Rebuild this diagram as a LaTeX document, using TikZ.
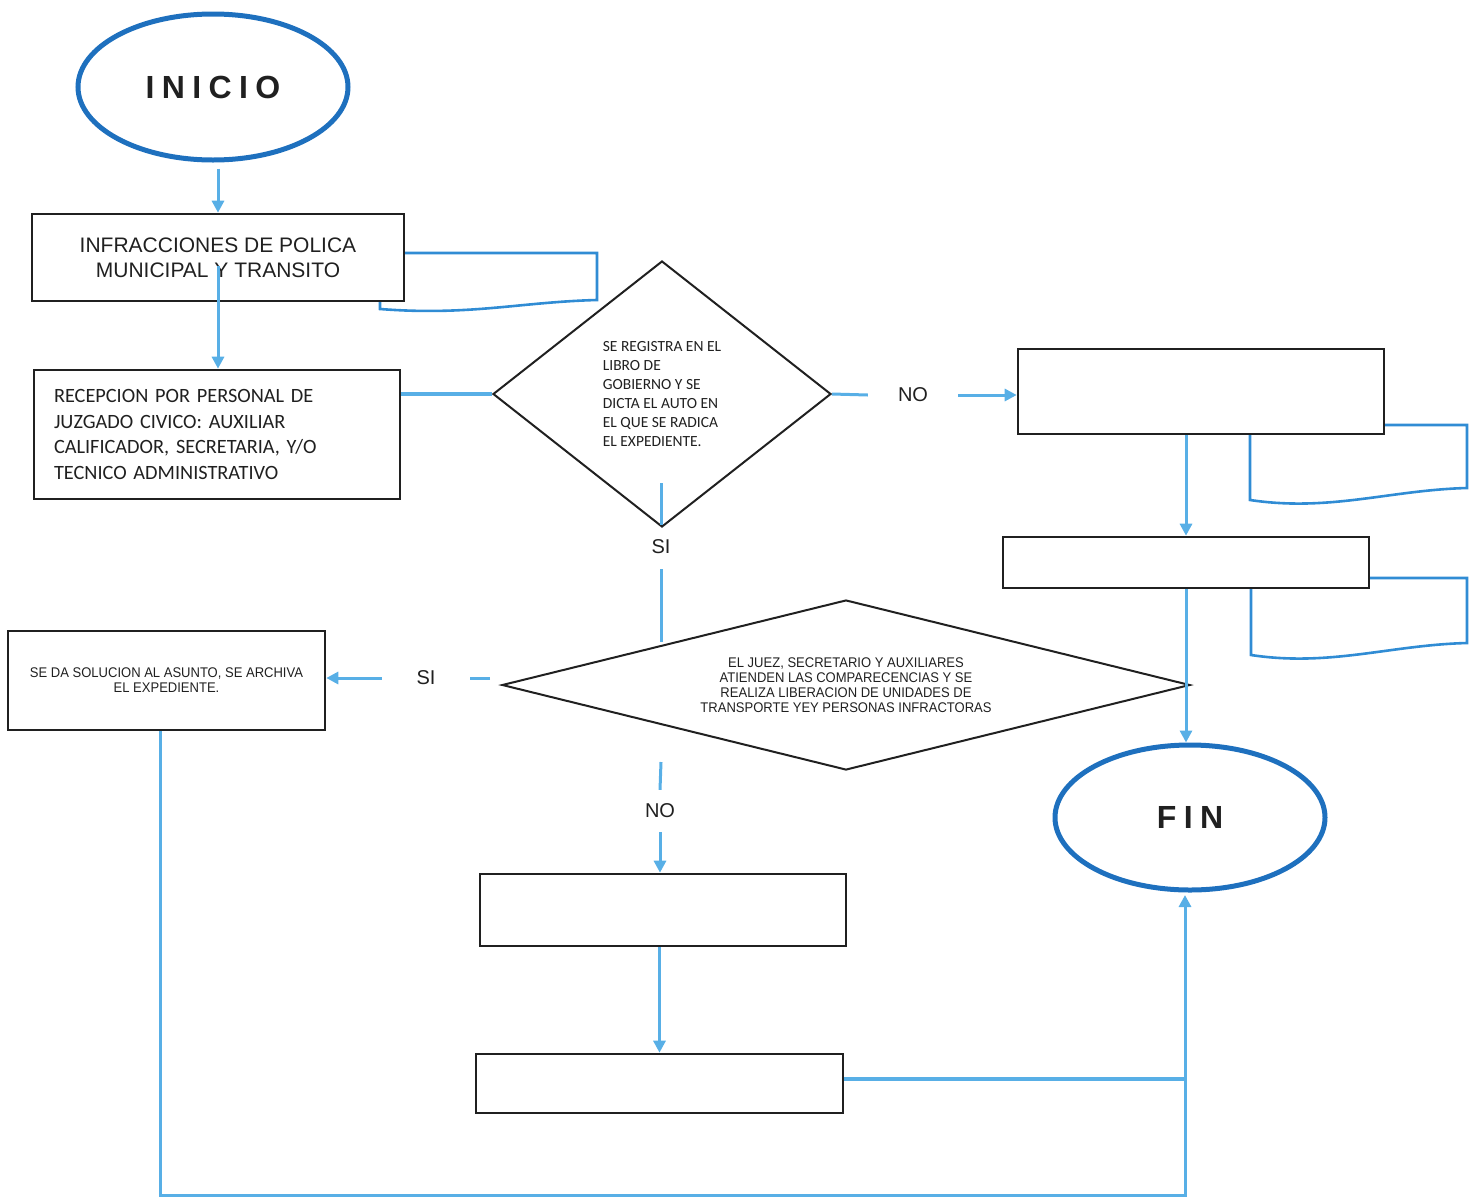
\documentclass[tikz,border=0pt]{standalone}
\usepackage{fontspec}
\setmainfont{Liberation Sans}
\newfontfamily\calfont{Carlito}
\newfontfamily\narrowfont{Liberation Sans}[FakeStretch=0.93]
\newfontfamily\spacedfont{Liberation Sans}[LetterSpace=23]
\usetikzlibrary{shapes.geometric,arrows.meta}
\definecolor{flowblue}{RGB}{88,175,230}
\definecolor{ovalblue}{RGB}{30,112,190}
\definecolor{docblue}{RGB}{48,140,212}
\definecolor{inkgray}{RGB}{32,32,32}
\begin{document}
\begin{tikzpicture}[x=1pt,y=-1pt,
    box/.style={draw=inkgray,line width=2.6pt,rectangle,inner sep=0pt,text=inkgray},
    oval/.style={draw=ovalblue,line width=5pt,ellipse,inner sep=0pt,minimum width=270pt,minimum height=146pt,
      text=inkgray,font=\spacedfont\bfseries\fontsize{32}{36}\selectfont},
    decision/.style={draw=inkgray,line width=2pt,diamond,inner sep=0pt,text=inkgray},
    lbl/.style={inner sep=0pt,text=inkgray,font=\fontsize{20}{24}\selectfont},
    link/.style={draw=flowblue,line width=3pt},
    flow/.style={link,-{Triangle[width=12pt,length=12pt]}},
    docline/.style={draw=docblue,line width=2.6pt}]
  \useasboundingbox (0,0) rectangle (1478,1197);
  \node[oval] (inicio) at (213,87) {INICIO};
  \node[box,minimum width=372pt,minimum height=87pt,align=center,font=\fontsize{21}{25}\selectfont]
    (infra) at (218,257.5) {INFRACCIONES DE POLICA\\MUNICIPAL Y TRANSITO};
  \node[box,minimum width=366pt,minimum height=129pt,text width=326pt,align=left,font=\calfont\fontsize{20.3}{25.5}\selectfont]
    (recep) at (217,434.5) {RECEPCION POR PERSONAL DE\\JUZGADO CIVICO: AUXILIAR\\CALIFICADOR, SECRETARIA, Y/O\\TECNICO ADMINISTRATIVO};
  \node[decision,minimum width=338pt,minimum height=266pt,align=left,font=\calfont\fontsize{15.5}{19}\selectfont]
    (registro) at (662,394) {SE REGISTRA EN EL\\LIBRO DE\\GOBIERNO Y SE\\DICTA EL AUTO EN\\EL QUE SE RADICA\\EL EXPEDIENTE.};
  \node[lbl,minimum width=90pt] (no1) at (913,395) {NO};
  \node[box,minimum width=366pt,minimum height=85pt] (alta) at (1201,391.5) {};
  \node[box,minimum width=366pt,minimum height=51pt] (turno) at (1186,562.5) {};
  \node[lbl,minimum height=44pt] (si1) at (661,547) {SI};
  \node[decision,aspect=4,minimum width=688pt,minimum height=170pt,align=center,font=\narrowfont\fontsize{14}{15}\selectfont]
    (atencion) at (846,685) {EL JUEZ, SECRETARIO Y AUXILIARES\\ATIENDEN LAS COMPARECENCIAS Y SE\\REALIZA LIBERACION DE UNIDADES DE\\TRANSPORTE YEY PERSONAS INFRACTORAS};
  \node[lbl,minimum width=88pt] (si2) at (426,678) {SI};
  \node[box,minimum width=317pt,minimum height=99pt,align=center,font=\narrowfont\fontsize{14}{15}\selectfont]
    (archivo) at (166.5,680.5) {SE DA SOLUCION AL ASUNTO, SE ARCHIVA\\EL EXPEDIENTE.};
  \node[lbl,minimum height=42pt] (no2) at (660,811) {NO};
  \node[box,minimum width=366pt,minimum height=72pt] (sancion) at (663,910) {};
  \node[box,minimum width=367pt,minimum height=59pt] (cobro) at (659.5,1083.5) {};
  \node[oval,minimum height=145pt] (fin) at (1190,817.5) {FIN};
  \coordinate (s1) at (661,483);
  \coordinate (s2) at (490,678);
  \coordinate (s3) at (661,762);
  \coordinate (base) at (160,1195);
  \coordinate (entrada) at (1185,895);
  \draw[docline] (405,253) -- (597,253) -- (597,300) .. controls (520,302) and (470,316) .. (380,309) -- (380,302);
  \draw[docline] (1385,425) -- (1467,425) -- (1467,488) .. controls (1390,490) and (1330,512) .. (1250,500) -- (1250,435);
  \draw[docline] (1370,578) -- (1467,578) -- (1467,643) .. controls (1390,645) and (1330,667) .. (1251,655) -- (1251,589);
  \begin{scope}[flowblue]
    \draw[flow,shorten <=6pt] (inicio.south -| infra.north) -- (infra.north);
    \draw[flow] ([yshift=-8pt]infra.center) -- (infra.center |- recep.north);
    \draw[link,line width=4pt] (recep.east |- registro.west) -- (registro.west);
    \draw[link] (registro.east) -- (no1.west);
    \draw[flow] (no1.east) -- (no1.east -| alta.west);
    \draw[flow] (turno.north |- alta.south) -- (turno.north);
    \draw[flow] (turno.south) -- (turno.south |- fin.north);
    \draw[link] (s1) -- (si1.north);
    \draw[link] (si1.south) -- (si1.south |- atencion.north west);
    \draw[link] (s2) -- (si2.east);
    \draw[flow] (si2.west) -- (si2.west -| archivo.east);
    \draw[link] (s3) -- (no2.north);
    \draw[flow] (no2.south) -- (no2.south |- sancion.north);
    \draw[flow] (cobro.north |- sancion.south) -- (cobro.north);
    \draw[link,line width=4pt] ([yshift=5pt]cobro.east) -- ([yshift=5pt]cobro.east -| entrada);
    \draw[flow] (archivo.south -| base) -- (base) -| (entrada);
  \end{scope}
\end{tikzpicture}
\end{document}
